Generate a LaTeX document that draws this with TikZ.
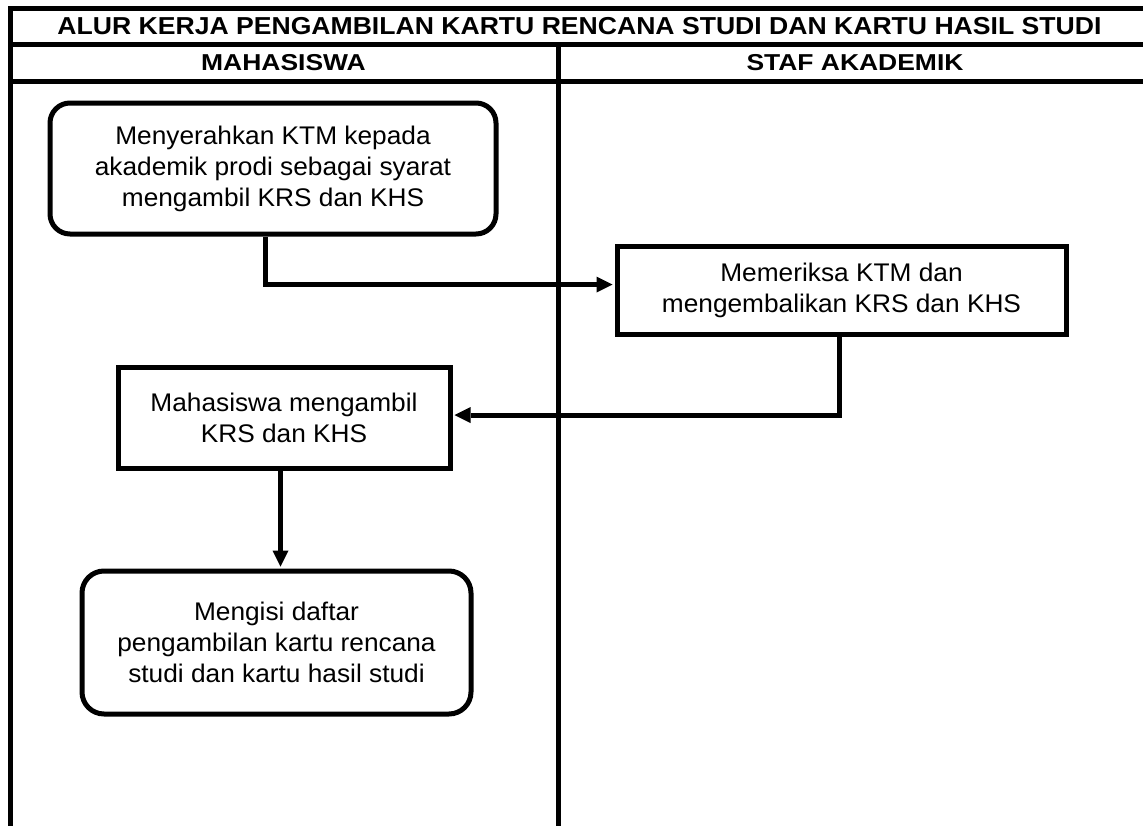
\documentclass[tikz,border=0pt]{standalone}
\usepackage{fontspec}
\setmainfont{Liberation Sans}[FakeStretch=1.03]
\newfontfamily\titlefont{Liberation Sans}[FakeStretch=1.15]
\newfontfamily\headfont{Liberation Sans}[FakeStretch=1.085]
\usetikzlibrary{arrows.meta}
\begin{document}
\begin{tikzpicture}[x=1pt,y=-1pt,
  frame/.style={line width=5pt},
  proc/.style={draw,line width=5pt,align=center,font=\fontsize{25.5}{31}\selectfont,inner sep=0pt},
  term/.style={proc,rounded corners=20pt},
  arr/.style={line width=5pt,shorten >=2pt,-{Triangle[length=16pt,width=16pt,line width=0pt]}},
  hdr/.style={font=\titlefont\bfseries\fontsize{23}{26}\selectfont,inner sep=0pt},
  ttl/.style={font=\headfont\bfseries\fontsize{24.5}{26}\selectfont,inner sep=0pt}]
\clip (0,0) rectangle (1143,825);
% swimlane frame
\draw[frame] (1160,8.5) -- (10,8.5) -- (10,840);
\draw[frame] (10,44.5) -- (1160,44.5);
\draw[frame] (10,81.5) -- (1160,81.5);
\draw[frame] (558,44.5) -- (558,840);
% headers
\node[ttl] (title) at (579.5,26.5) {ALUR KERJA PENGAMBILAN KARTU RENCANA STUDI DAN KARTU HASIL STUDI};
\node[hdr] (mhs) at (283.5,63) {MAHASISWA};
\node[hdr] (staf) at (855,63) {STAF AKADEMIK};
% process boxes
\node[term, minimum width=446pt, minimum height=131pt] (b1) at (273,168.5)
  {Menyerahkan KTM kepada\\akademik prodi sebagai syarat\\mengambil KRS dan KHS};
\node[proc, minimum width=449pt, minimum height=88pt] (b2) at (841.5,290)
  {Memeriksa KTM dan\\mengembalikan KRS dan KHS};
\node[proc, minimum width=332pt, minimum height=101pt] (b3) at (284,417.5)
  {Mahasiswa mengambil\\KRS dan KHS};
\node[term, rounded corners=22pt, minimum width=389pt, minimum height=143pt] (b4) at (276.5,642.5)
  {Mengisi daftar\\pengambilan kartu rencana\\studi dan kartu hasil studi};
% connectors
\coordinate (k1) at (265,284.5);
\draw[arr] (b1.south -| k1) -- (k1) -- (k1 -| b2.west);
\coordinate (k2) at (839,415);
\draw[arr] (b2.south -| k2) -- (k2) -- (k2 -| b3.east);
\coordinate (k3) at (280.5,500);
\draw[arr] (b3.south -| k3) -- (b4.north -| k3);
\end{tikzpicture}
\end{document}
